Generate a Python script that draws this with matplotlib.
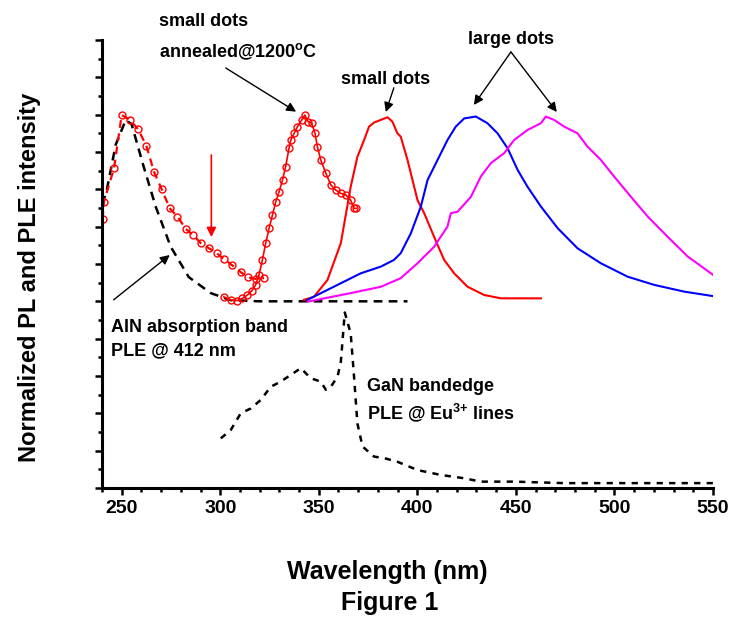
import numpy as np
import matplotlib
matplotlib.use('Agg')
import matplotlib.pyplot as plt
from matplotlib.ticker import MultipleLocator, NullFormatter

plt.rcParams.update({
    'font.family': ['Liberation Sans', 'DejaVu Sans'],
    'font.weight': 'bold',
    'mathtext.fontset': 'custom',
    'mathtext.rm': 'Liberation Sans:bold',
    'mathtext.bf': 'Liberation Sans:bold',
    'mathtext.it': 'Liberation Sans:bold',
})

# --- data (wavelength nm, normalized intensity) ---
# AlN absorption band, PLE @ 412 nm (black dashed)
aln_x = [240.3, 242.5, 247.0, 252.0, 255.0, 261.2, 267.3, 274.9, 284.0, 295.2,
         305.3, 320.0, 340.0, 360.0, 380.0, 395.0]
aln_y = [0.76, 0.80, 0.92, 0.985, 0.975, 0.86, 0.753, 0.646, 0.565, 0.522,
         0.503, 0.50, 0.50, 0.50, 0.50, 0.50]

# small dots annealed, PLE (red dashed, open circles)
ple_red_x = [240.3, 241.0, 246.1, 250.0, 254.2, 258.3, 262.5, 266.4, 270.3, 274.4,
             278.3, 282.5, 286.2, 290.1, 294.3, 298.2, 301.9, 306.2, 310.4, 314.3,
             318.0, 322.2]
ple_red_y = [0.72, 0.767, 0.856, 0.999, 0.986, 0.961, 0.917, 0.847, 0.800, 0.749,
             0.727, 0.694, 0.678, 0.656, 0.642, 0.629, 0.613, 0.596, 0.578, 0.564,
             0.560, 0.562]

# small dots annealed @1200C, PL (red solid, open circles)
ann_x = [301.8, 305.3, 308.7, 311.3, 313.8, 316.0, 318.0, 319.7, 321.4, 323.1,
         324.8, 326.5, 328.2, 329.9, 331.6, 333.2, 334.9, 335.8, 337.5, 339.2,
         341.4, 342.9, 344.6, 346.4, 348.1, 349.3, 351.0, 353.6, 356.1, 358.6,
         361.2, 363.7, 366.2, 367.9, 369.1]
ann_y = [0.512, 0.504, 0.502, 0.508, 0.517, 0.528, 0.544, 0.571, 0.611, 0.656,
         0.696, 0.731, 0.767, 0.794, 0.825, 0.861, 0.910, 0.932, 0.950, 0.968,
         0.986, 0.999, 0.981, 0.977, 0.950, 0.914, 0.879, 0.843, 0.812, 0.798,
         0.789, 0.785, 0.771, 0.749, 0.749]

# small dots PL (red)
sd_x = [342.4, 347.5, 354.4, 361.2, 366.2, 369.6, 373.0, 375.5, 378.1, 381.5,
        384.9, 387.4, 389.9, 391.6, 395.0, 400.1, 403.5, 408.5, 413.6, 418.7,
        425.5, 433.9, 442.4, 450.9, 462.7]
sd_y = [0.504, 0.512, 0.557, 0.656, 0.807, 0.887, 0.932, 0.968, 0.979, 0.986,
        0.993, 0.981, 0.950, 0.941, 0.879, 0.771, 0.736, 0.673, 0.611, 0.575,
        0.539, 0.517, 0.508, 0.508, 0.508]

# large dots PL (blue)
ld1_x = [344.3, 357.6, 371.3, 381.5, 388.2, 391.6, 396.7, 401.8, 405.2, 410.3,
         415.3, 419.5, 423.8, 429.7, 435.6, 440.7, 445.8, 450.9, 455.9, 462.7,
         471.2, 481.3, 493.1, 506.7, 520.2, 535.4, 550.0]
ld1_y = [0.504, 0.539, 0.575, 0.593, 0.611, 0.629, 0.682, 0.754, 0.825, 0.879,
         0.932, 0.968, 0.990, 0.995, 0.977, 0.950, 0.910, 0.852, 0.807, 0.754,
         0.696, 0.642, 0.602, 0.566, 0.544, 0.526, 0.514]

# large dots PL (magenta)
ld2_x = [344.3, 366.2, 381.5, 391.6, 400.1, 408.5, 415.3, 417.0, 420.4, 427.2,
         432.2, 437.3, 444.1, 449.1, 455.9, 462.7, 465.2, 469.4, 474.5, 481.3,
         486.4, 493.1, 499.9, 508.4, 516.9, 527.0, 537.2, 550.0]
ld2_y = [0.499, 0.522, 0.539, 0.562, 0.602, 0.646, 0.700, 0.736, 0.740, 0.780,
         0.834, 0.870, 0.897, 0.932, 0.959, 0.977, 0.995, 0.986, 0.968, 0.950,
         0.914, 0.879, 0.834, 0.780, 0.727, 0.673, 0.620, 0.571]

# GaN bandedge, PLE @ Eu3+ lines (black dashed)
gan_x = [300.3, 305.3, 310.4, 315.5, 320.6, 325.6, 330.7, 335.8, 340.9, 345.9,
         351.0, 353.6, 356.1, 359.5, 361.2, 363.2, 366.2, 367.9, 369.6, 372.2,
         378.1, 383.2, 390.0, 400.1, 411.9, 423.8, 432.2, 449.1, 474.5, 508.4,
         550.0]
gan_y = [0.133, 0.155, 0.200, 0.213, 0.236, 0.271, 0.285, 0.303, 0.321, 0.294,
         0.285, 0.263, 0.271, 0.298, 0.338, 0.470, 0.414, 0.298, 0.173, 0.111,
         0.084, 0.080, 0.070, 0.048, 0.035, 0.026, 0.017, 0.017, 0.013, 0.013,
         0.013]

x_ticks = [250, 300, 350, 400, 450, 500, 550]

# --- plot ---
fig = plt.figure(figsize=(7.31, 6.21), dpi=100)
ax = fig.add_axes([0.1395, 0.2142, 0.8358, 0.7214])

dash = (3.5, 2.5)
ax.plot(aln_x, aln_y, color='black', lw=1.8, dashes=dash)
ax.plot(ple_red_x, ple_red_y, color='red', lw=1.6, dashes=dash,
        marker='o', ms=5, mfc='none', mec='red', mew=1.0)
ax.plot(ann_x, ann_y, color='red', lw=1.2,
        marker='o', ms=5, mfc='none', mec='red', mew=1.0)
ax.plot(sd_x, sd_y, color='red', lw=1.5)
ax.plot(ld1_x, ld1_y, color='blue', lw=1.5)
ax.plot(ld2_x, ld2_y, color='magenta', lw=1.5)
ax.plot(gan_x, gan_y, color='black', lw=1.8, dashes=(2.5, 2.5))

# annotations
fs = 13
ax.text(268.8, 1.250, 'small dots', fontsize=fs, fontweight='bold', va='center')
ax.text(268.8, 1.168, r'annealed@1200$^{o}$C', fontsize=fs, fontweight='bold', va='center')
ax.text(361.2, 1.093, 'small dots', fontsize=fs, fontweight='bold', va='center')
ax.text(425.6, 1.200, 'large dots', fontsize=fs, fontweight='bold', va='center')
ax.text(244.4, 0.431, 'AlN absorption band', fontsize=fs, fontweight='bold', va='center')
ax.text(244.4, 0.367, 'PLE @ 412 nm', fontsize=fs, fontweight='bold', va='center')
ax.text(374.4, 0.271, 'GaN bandedge', fontsize=fs, fontweight='bold', va='center')
ax.text(374.4, 0.201, r'PLE @ Eu$^{3{+}}$ lines', fontsize=fs, fontweight='bold', va='center')

arrow = dict(arrowstyle='-|>', color='black', lw=1.0, mutation_scale=14,
             shrinkA=0, shrinkB=0)
ax.annotate('', xy=(338.5, 1.008), xytext=(302.8, 1.125), arrowprops=arrow, annotation_clip=False)
ax.annotate('', xy=(384.0, 1.007), xytext=(388.1, 1.072), arrowprops=arrow, annotation_clip=False)
ax.annotate('', xy=(428.7, 1.026), xytext=(447.5, 1.168), arrowprops=arrow, annotation_clip=False)
ax.annotate('', xy=(470.8, 1.007), xytext=(447.5, 1.168), arrowprops=arrow, annotation_clip=False)
ax.annotate('', xy=(274.4, 0.624), xytext=(245.9, 0.504), arrowprops=arrow)
ax.annotate('', xy=(295.5, 0.672), xytext=(295.5, 0.892),
            arrowprops=dict(arrowstyle='-|>', color='red', lw=1.2, mutation_scale=14,
                            shrinkA=0, shrinkB=0))

# axes styling
ax.set_xlim(240, 550)
ax.set_ylim(0, 1.2)
ax.set_xticks(x_ticks)
ax.xaxis.set_minor_locator(MultipleLocator(10))
ax.yaxis.set_major_locator(MultipleLocator(0.1))
ax.yaxis.set_minor_locator(MultipleLocator(0.05))
ax.yaxis.set_major_formatter(NullFormatter())
for s in ['top', 'right']:
    ax.spines[s].set_visible(False)
for s in ['left', 'bottom']:
    ax.spines[s].set_linewidth(2.2)
ax.tick_params(which='major', direction='out', length=5, width=1.8, labelsize=14)
ax.tick_params(which='minor', direction='out', length=3, width=1.8)
for lab in ax.get_xticklabels():
    lab.set_fontweight('bold')

fig.text(0.530, 0.079, 'Wavelength (nm)', fontsize=18, fontweight='bold',
         ha='center', va='center')
fig.text(0.533, 0.029, 'Figure 1', fontsize=18, fontweight='bold',
         ha='center', va='center')
fig.text(0.040, 0.554, 'Normalized PL and PLE intensity', fontsize=17,
         fontweight='bold', ha='center', va='center', rotation=90)

fig.savefig('out.png', dpi=100)
